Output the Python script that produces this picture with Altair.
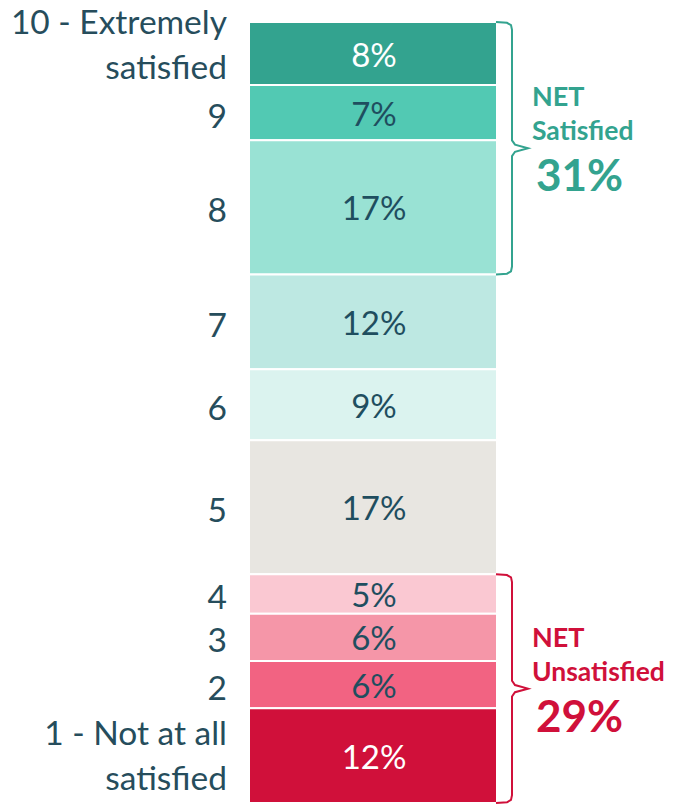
import altair as alt
import pandas as pd

# ---- data ----
scores = ["10", "9", "8", "7", "6", "5", "4", "3", "2", "1"]
labels = ["10 - Extremely\nsatisfied", "9", "8", "7", "6", "5", "4", "3", "2",
          "1 - Not at all\nsatisfied"]
values = [8, 7, 17, 12, 9, 17, 5, 6, 6, 12]
colors = ["#33A38F", "#52C9B3", "#99E2D4", "#BDE8E2", "#DBF3EF",
          "#E8E6E1", "#FAC8D2", "#F596A8", "#F26382", "#D0103A"]
text_colors = ["#FFFFFF"] + ["#1F4E5F"] * 8 + ["#FFFFFF"]

net_groups = ["Satisfied", "Unsatisfied"]
net_values = [31, 29]
net_members = [["10", "9", "8"], ["4", "3", "2", "1"]]
net_colors = ["#33A38F", "#D0103A"]

FONT = "Lato"
LABEL_COLOR = "#264D5C"

# ---- build tables ----
starts, ends = [], []
cum = 0
for v in values:
    starts.append(cum)
    cum += v
    ends.append(cum)
bars = pd.DataFrame({
    "score": scores, "label": labels, "value": values,
    "start": starts, "end": ends,
    "mid": [(s + e) / 2 for s, e in zip(starts, ends)],
    "pct": [f"{v}%" for v in values],
    "tcolor": text_colors,
})

net_rows, br_rows = [], []
for g, v, mem, c in zip(net_groups, net_values, net_members, net_colors):
    sub = bars[bars.score.isin(mem)]
    s, e = sub.start.min(), sub.end.max()
    m = (s + e) / 2
    net_rows.append({"group": g, "pct": f"{v}%", "mid": m, "color": c})
    shape = [(488, s), (499, s + 0.1), (503, s + 0.4), (504, s + 1.0),
             (504, m - 1.0), (507, m - 0.45), (520, m), (507, m + 0.45),
             (504, m + 1.0), (504, e - 1.0), (503, e - 0.4), (499, e - 0.1),
             (488, e)]
    for i, (bx, by) in enumerate(shape):
        br_rows.append({"group": g, "bx": bx, "by": by, "ord": i, "color": c})
net = pd.DataFrame(net_rows)
brackets = pd.DataFrame(br_rows)

W, H = 658, 797
yscale = alt.Scale(domain=[-1.775, 99.25], reverse=True, nice=False, zero=False)
xscale = alt.Scale(domain=[0, W], nice=False, zero=False)
Y_MID = alt.Y("mid:Q", scale=yscale, axis=None)

bar = alt.Chart(bars).mark_rect(stroke="white", strokeWidth=2).encode(
    x=alt.value(241), x2=alt.value(489),
    y=alt.Y("start:Q", scale=yscale, axis=None), y2="end:Q",
    color=alt.Color("score:N", scale=alt.Scale(domain=scores, range=colors), legend=None),
)

pct = alt.Chart(bars).mark_text(font=FONT, fontSize=33, baseline="middle",
                                align="center", dy=3).encode(
    x=alt.value(366), y=Y_MID, text="pct:N",
    color=alt.Color("tcolor:N", scale=None),
)

def left_layer(filter_expr, dy):
    return alt.Chart(bars).transform_filter(filter_expr).mark_text(
        font=FONT, fontSize=33.5, align="right", baseline="middle",
        lineBreak="\n", lineHeight=45, color=LABEL_COLOR, dy=dy,
    ).encode(x=alt.value(219), y=Y_MID, text="label:N")

left_top = left_layer("datum.score == '10'", -30)
left_bottom = left_layer("datum.score == '1'", -21)
left_rest = left_layer("datum.score != '10' && datum.score != '1'", 5)

br = alt.Chart(brackets).mark_line(strokeWidth=2).encode(
    x=alt.X("bx:Q", scale=xscale, axis=None),
    y=alt.Y("by:Q", scale=yscale, axis=None),
    order="ord:Q",
    detail="group:N",
    color=alt.Color("color:N", scale=None),
)

net_word = alt.Chart(net).mark_text(font=FONT, fontSize=27, fontWeight="bold",
                                    align="left", baseline="middle", dy=-50, text="NET").encode(
    x=alt.value(524), y=Y_MID, color=alt.Color("color:N", scale=None))
net_group = alt.Chart(net).mark_text(font=FONT, fontSize=26.5, fontWeight="bold",
                                     align="left", baseline="middle", dy=-16).encode(
    x=alt.value(524), y=Y_MID, text="group:N", color=alt.Color("color:N", scale=None))
net_pct = alt.Chart(net).mark_text(font=FONT, fontSize=44, fontWeight="bold",
                                   align="left", baseline="middle", dy=30).encode(
    x=alt.value(528), y=Y_MID, text="pct:N", color=alt.Color("color:N", scale=None))

chart = alt.layer(bar, pct, left_top, left_bottom, left_rest, br,
                  net_word, net_group, net_pct).properties(
    width=W, height=H, padding=0,
    autosize=alt.AutoSizeParams(type="none"),
    background="white",
).configure_view(stroke=None)

chart.save("out.html", embed_options={"renderer": "svg", "actions": False})
